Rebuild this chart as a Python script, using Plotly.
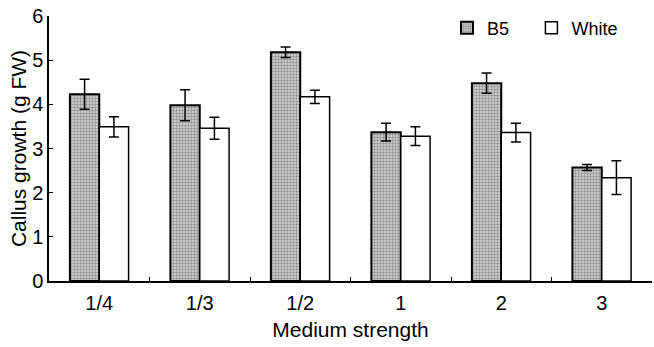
import plotly.graph_objects as go

categories = ["1/4", "1/3", "1/2", "1", "2", "3"]
b5_values = [4.23, 3.98, 5.18, 3.37, 4.48, 2.57]
b5_errors = [0.34, 0.35, 0.12, 0.20, 0.23, 0.07]
white_values = [3.49, 3.46, 4.17, 3.28, 3.36, 2.34]
white_errors = [0.23, 0.25, 0.15, 0.21, 0.21, 0.38]
y_ticks = [0, 1, 2, 3, 4, 5, 6]

FONT = "Liberation Sans"

fig = go.Figure()
fig.add_trace(go.Bar(
    x=categories, y=b5_values, name="B5", legend="legend", showlegend=True,
    marker=dict(color="#b8b8b8",
                line=dict(color="black", width=2),
                pattern=dict(shape="+", fgcolor="#808080", bgcolor="#c8c8c8",
                             size=3, solidity=0.3, fillmode="replace")),
    error_y=dict(type="data", array=b5_errors, visible=True,
                 color="black", thickness=1.5, width=5),
))
fig.add_trace(go.Bar(
    x=categories, y=white_values, name="White", legend="legend2", showlegend=True,
    marker=dict(color="white", line=dict(color="black", width=1.5)),
    error_y=dict(type="data", array=white_errors, visible=True,
                 color="black", thickness=1.5, width=5),
))

legend_common = dict(font=dict(family=FONT, size=18, color="black"),
                     bgcolor="rgba(0,0,0,0)", borderwidth=0, visible=True,
                     yanchor="middle", xanchor="left", orientation="h")

fig.update_layout(
    width=654, height=347,
    margin=dict(l=49, r=2, t=16, b=66),
    paper_bgcolor="white", plot_bgcolor="white",
    showlegend=True,
    barmode="group", bargap=0.416, bargroupgap=0,
    font=dict(family=FONT, size=20, color="black"),
    legend=dict(x=0.66, y=0.955, **legend_common),
    legend2=dict(x=0.80, y=0.955, **legend_common),
    xaxis=dict(
        type="category", range=[-0.5, 5.5],
        showline=True, linecolor="black", linewidth=1.5,
        ticks="inside", tickson="boundaries", ticklen=4, tickcolor="black",
        tickfont=dict(size=20), ticklabelstandoff=3,
        showgrid=False, zeroline=False,
        title=dict(text="Medium strength", font=dict(size=21), standoff=10),
    ),
    yaxis=dict(
        range=[0, 6], tickvals=y_ticks,
        showline=True, linecolor="black", linewidth=1.5,
        ticks="inside", ticklen=4, tickcolor="black",
        tickfont=dict(size=20),
        showgrid=False, zeroline=False,
        title=dict(text="Callus growth (g FW)", font=dict(size=21), standoff=0),
    ),
)

fig.write_html("out.html")
